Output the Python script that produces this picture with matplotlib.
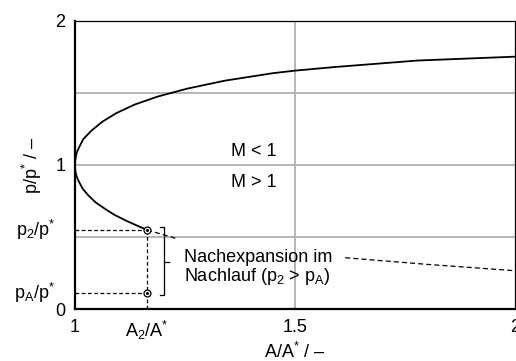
import matplotlib
matplotlib.use('Agg')
import matplotlib.pyplot as plt

plt.rcParams['font.family'] = ['Liberation Sans', 'DejaVu Sans']
plt.rcParams['font.size'] = 13
plt.rcParams['mathtext.fontset'] = 'custom'
plt.rcParams['mathtext.rm'] = 'Liberation Sans'
plt.rcParams['mathtext.it'] = 'Liberation Sans'
plt.rcParams['mathtext.default'] = 'regular'

# Unterschall-Ast (M < 1)
A_sub = [1.0, 1.0005, 1.002, 1.0045, 1.009, 1.019, 1.038, 1.062, 1.094,
         1.136, 1.188, 1.255, 1.34, 1.449, 1.5, 1.59, 1.778, 2.0]
p_sub = [1.0, 1.03, 1.06, 1.09, 1.12, 1.18, 1.24, 1.30, 1.36,
         1.42, 1.475, 1.53, 1.585, 1.637, 1.655, 1.68, 1.725, 1.752]

# Ueberschall-Ast (M > 1) bis A2/A*
A_sup = [1.0, 1.0005, 1.002, 1.0045, 1.008, 1.0175, 1.03, 1.047, 1.066,
         1.089, 1.115, 1.144, 1.164]
p_sup = [1.0, 0.97, 0.94, 0.915, 0.89, 0.835, 0.79, 0.74, 0.70,
         0.655, 0.615, 0.575, 0.549]

# gestrichelte Fortsetzung (Nachlauf)
A_dash1 = [1.164, 1.234]
p_dash1 = [0.549, 0.486]
A_dash2 = [1.614, 1.8, 2.0]
p_dash2 = [0.356, 0.31, 0.266]

A2 = 1.164
p2 = 0.549
pA = 0.109

fig = plt.figure(figsize=(5.16, 3.61), dpi=100)
ax = fig.add_axes([0.1453, 0.144, 0.853, 0.798])

ax.plot(A_sub, p_sub, color='black', lw=1.3)
ax.plot(A_sup, p_sup, color='black', lw=1.3)
ax.plot(A_dash1, p_dash1, color='black', lw=0.9, dashes=(4, 2.5))
ax.plot(A_dash2, p_dash2, color='black', lw=0.9, dashes=(4, 2.5))

# Hilfslinien
ax.plot([1, A2], [p2, p2], color='black', lw=0.9, dashes=(3, 2))
ax.plot([1, A2], [pA, pA], color='black', lw=0.9, dashes=(3, 2))
ax.plot([A2, A2], [0, p2], color='black', lw=0.9, dashes=(3, 2))
for p in [p2, pA]:
    ax.plot(A2, p, marker='o', ms=5, mfc='white', mec='black', mew=0.9, zorder=5)
    ax.plot(A2, p, marker='o', ms=1.2, color='black', zorder=6)

# Klammer
bx = 1.202
ax.plot([bx - 0.009, bx, bx, bx - 0.009], [0.569, 0.569, 0.097, 0.097], color='black', lw=0.9)
ax.plot([bx, bx + 0.012], [0.326, 0.326], color='black', lw=0.9)

ax.text(1.248, 0.36, 'Nachexpansion im', ha='left', va='center')
ax.text(1.248, 0.226, 'Nachlauf (p$_2$ > p$_A$)', ha='left', va='center')
ax.text(1.407, 1.095, 'M < 1', ha='center', va='center')
ax.text(1.407, 0.88, 'M > 1', ha='center', va='center')

ax.set_xlim(1, 2)
ax.set_ylim(0, 2)
ax.set_xticks([1, A2, 1.5, 2])
ax.set_xticklabels(['1', 'A$_2$/A$^{*}$', '1.5', '2'])
ax.set_yticks([0, 1, 2])
ax.set_yticklabels(['0', '1', '2'])
ax.tick_params(length=0, pad=7)

tr = ax.get_yaxis_transform()
ax.text(-0.045, p2, 'p$_2$/p$^{*}$', transform=tr, ha='right', va='center')
ax.text(-0.045, pA, 'p$_A$/p$^{*}$', transform=tr, ha='right', va='center')

ax.axvline(1.5, color='#b0b0b0', lw=1.3, zorder=0)
for y in [0.5, 1.0, 1.5]:
    ax.axhline(y, color='#b0b0b0', lw=1.3, zorder=0)

ax.spines['left'].set_linewidth(1.6)
ax.spines['bottom'].set_linewidth(1.6)
ax.spines['top'].set_linewidth(0.9)
ax.spines['right'].set_linewidth(0.9)

ax.set_xlabel('A/A$^{*}$ / –', labelpad=0)
ax.set_ylabel('p/p$^{*}$ / –', labelpad=8)

fig.savefig('out.png', dpi=100)
